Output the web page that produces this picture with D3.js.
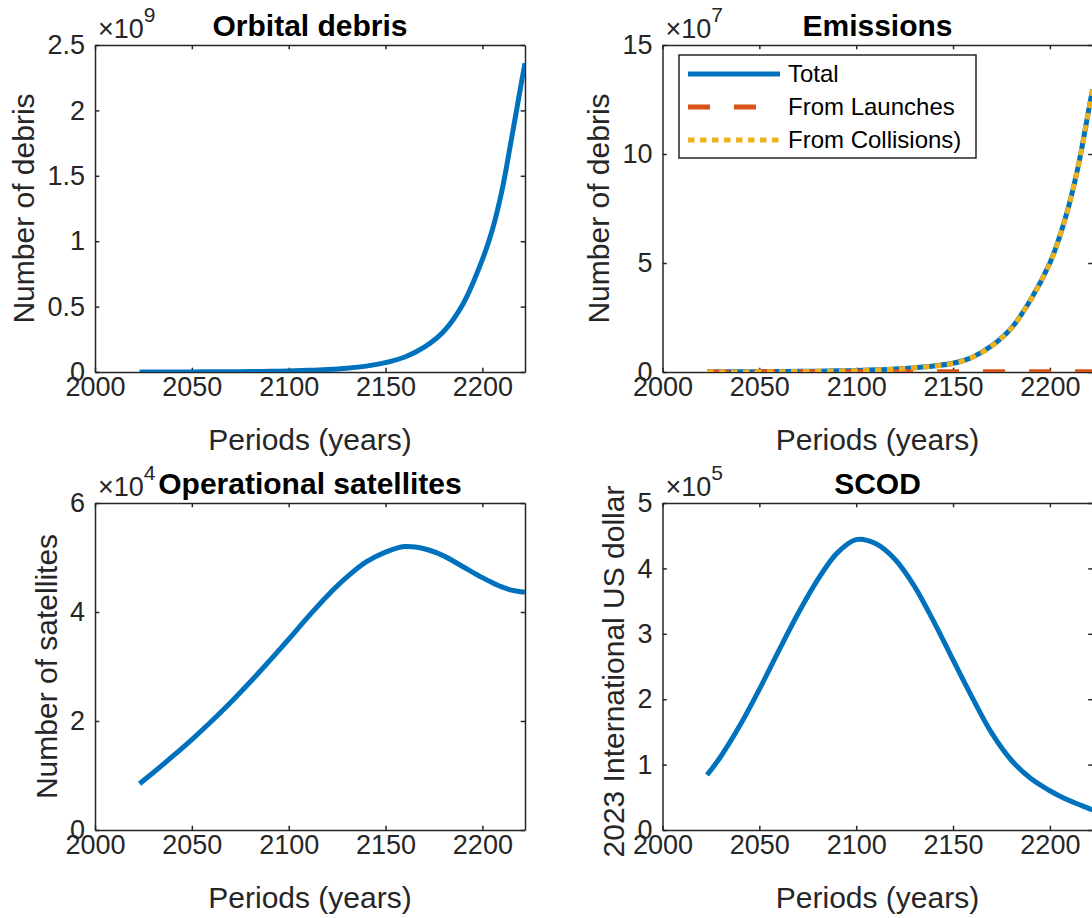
<!DOCTYPE html>
<html>
<head>
<meta charset="utf-8">
<style>
  body { margin: 0; background: #fff; }
  svg { display: block; font-family: "Liberation Sans", Arial, Helvetica, sans-serif; }
  .axis .domain, .axis .tick line { stroke: #262626; stroke-width: 1.5; }
  .axis .tick text { fill: #262626; font-size: 27px; }
  .ylab, .xlab { fill: #262626; font-size: 30px; }
  .ttl { fill: #000; font-size: 30px; font-weight: bold; }
  .expo { fill: #262626; font-size: 27px; }
  .leg text { fill: #000; font-size: 24px; }
</style>
<script src="https://d3js.org/d3.v7.min.js"></script>
</head>
<body>
<svg id="fig" width="1092" height="918"></svg>
<script>
// periods (years) shared by all series
var years = [2023, 2030, 2040, 2050, 2060, 2070, 2080, 2090, 2100, 2110, 2120, 2130,
             2140, 2150, 2160, 2170, 2180, 2190, 2200, 2205, 2210, 2215, 2220, 2222];

// orbital debris, x 1e9
var debris = [0.0003, 0.0004, 0.0006, 0.0009, 0.0014, 0.0022, 0.0034, 0.0053, 0.0082, 0.0125, 0.019, 0.029,
              0.045, 0.072, 0.115, 0.19, 0.31, 0.52, 0.86, 1.08, 1.38, 1.78, 2.20, 2.36];

// emissions, x 1e7
var emisTotal = [0.002, 0.005, 0.01, 0.015, 0.02, 0.03, 0.04, 0.055, 0.07, 0.1, 0.14, 0.2,
                 0.28, 0.4, 0.68, 1.2, 2.0, 3.3, 5.0, 6.2, 7.7, 9.6, 12.0, 12.95];
var emisLaunch = [0.002, 0.004, 0.005, 0.006, 0.007, 0.008, 0.008, 0.009, 0.009, 0.01, 0.01, 0.01,
                  0.01, 0.01, 0.01, 0.01, 0.01, 0.01, 0.01, 0.01, 0.01, 0.01, 0.01, 0.01];
var emisColl = [0.0, 0.001, 0.005, 0.009, 0.013, 0.022, 0.032, 0.046, 0.061, 0.09, 0.13, 0.19,
                0.27, 0.39, 0.67, 1.19, 1.99, 3.29, 4.99, 6.19, 7.69, 9.59, 11.99, 12.94];

// operational satellites, x 1e4
var sats = [0.85, 1.05, 1.35, 1.66, 1.99, 2.34, 2.71, 3.10, 3.50, 3.91, 4.30, 4.64,
            4.92, 5.10, 5.20, 5.16, 5.03, 4.83, 4.63, 4.54, 4.46, 4.40, 4.37, 4.36];

// SCOD, x 1e5
var scod = [0.84, 1.12, 1.60, 2.15, 2.74, 3.31, 3.82, 4.23, 4.44, 4.38, 4.14, 3.73,
            3.19, 2.60, 2.02, 1.48, 1.07, 0.79, 0.60, 0.52, 0.45, 0.39, 0.33, 0.31];

var xTicks = [2000, 2050, 2100, 2150, 2200];
var debrisTicks = [0, 0.5, 1, 1.5, 2, 2.5];
var emisTicks = [0, 5, 10, 15];
var satTicks = [0, 2, 4, 6];
var scodTicks = [0, 1, 2, 3, 4, 5];

var legendLabels = ["Total", "From Launches", "From Collisions)"];

var blue = "#0072BD", orange = "#D95319", yellow = "#EDB120";

var svg = d3.select("#fig");

var panels = [
  { left: 95, top: 45, title: "Orbital debris", ylab: "Number of debris", expo: "9",
    ymax: 2.5, yticks: debrisTicks,
    series: [{ v: debris, color: blue }] },
  { left: 662.5, top: 45, title: "Emissions", ylab: "Number of debris", expo: "7",
    ymax: 15, yticks: emisTicks, legend: true,
    series: [{ v: emisTotal, color: blue },
             { v: emisLaunch, color: orange, dash: "22,24" },
             { v: emisColl, color: yellow, dash: "6.5,5.5" }] },
  { left: 95, top: 503, title: "Operational satellites", ylab: "Number of satellites", expo: "4",
    ymax: 6, yticks: satTicks,
    series: [{ v: sats, color: blue }] },
  { left: 662.5, top: 503, title: "SCOD", ylab: "2023 International US dollar", expo: "5",
    ymax: 5, yticks: scodTicks,
    series: [{ v: scod, color: blue }] }
];

var W = 430, H = 327, tick = 4.3;

panels.forEach(function(p, k) {
  var g = svg.append("g").attr("transform", "translate(" + p.left + "," + p.top + ")");

  var x = d3.scaleLinear().domain([2000, 2222]).range([0, W]);
  var y = d3.scaleLinear().domain([0, p.ymax]).range([H, 0]);

  g.append("clipPath").attr("id", "clip" + k)
    .append("rect").attr("width", W).attr("height", H);

  // box and inward ticks on all four sides
  g.append("g").attr("class", "axis")
    .attr("transform", "translate(0," + H + ")")
    .call(d3.axisBottom(x).tickValues(xTicks).tickSizeInner(-tick).tickSizeOuter(0)
      .tickPadding(5).tickFormat(d3.format("d")));
  g.append("g").attr("class", "axis")
    .call(d3.axisTop(x).tickValues(xTicks).tickSizeInner(-tick).tickSizeOuter(0).tickFormat(""));
  var yAx = g.append("g").attr("class", "axis")
    .call(d3.axisLeft(y).tickValues(p.yticks).tickSizeInner(-tick).tickSizeOuter(0)
      .tickPadding(10).tickFormat(function(d) { return String(d); }));
  g.append("g").attr("class", "axis")
    .attr("transform", "translate(" + W + ",0)")
    .call(d3.axisRight(y).tickValues(p.yticks).tickSizeInner(-tick).tickSizeOuter(0).tickFormat(""));
  g.selectAll(".axis").attr("font-family", null).attr("font-size", null);

  // lines
  var line = d3.line()
    .curve(d3.curveCatmullRom.alpha(0.5))
    .x(function(d, i) { return x(years[i]); })
    .y(function(d) { return y(d); });

  p.series.forEach(function(s) {
    g.append("path")
      .datum(s.v)
      .attr("clip-path", "url(#clip" + k + ")")
      .attr("fill", "none")
      .attr("stroke", s.color)
      .attr("stroke-width", 5)
      .attr("stroke-dasharray", s.dash || null)
      .attr("d", line);
  });

  // texts
  g.append("text").attr("class", "ttl")
    .attr("x", W / 2).attr("y", -9).attr("text-anchor", "middle")
    .text(p.title);

  g.append("text").attr("class", "xlab")
    .attr("x", W / 2).attr("y", H + 78).attr("text-anchor", "middle")
    .text("Periods (years)");

  var bb = yAx.node().getBBox();
  g.append("text").attr("class", "ylab")
    .attr("transform", "translate(" + (bb.x - 13) + "," + (H / 2 + (p.ylab.length > 20 ? 5 : 0)) + ") rotate(-90)")
    .attr("text-anchor", "middle")
    .text(p.ylab);

  var ex = g.append("text").attr("class", "expo").attr("x", 3).attr("y", -7);
  ex.append("tspan").attr("font-weight", 300).text("\u00d7");
  ex.append("tspan").text("10");
  ex.append("tspan").attr("font-size", "21px").attr("dy", -16).text(p.expo);

  if (p.legend) {
    var lg = g.append("g").attr("class", "leg").attr("transform", "translate(16.5,10)");
    lg.append("rect").attr("width", 297).attr("height", 103)
      .attr("fill", "#fff").attr("stroke", "#262626").attr("stroke-width", 1.5);
    legendLabels.forEach(function(lab, i) {
      var s = p.series[i], cy = 19 + i * 33;
      lg.append("line").attr("x1", 9).attr("x2", 101).attr("y1", cy).attr("y2", cy)
        .attr("stroke", s.color).attr("stroke-width", 5)
        .attr("stroke-dasharray", s.dash || null);
      lg.append("text").attr("x", 109).attr("y", cy).attr("dy", "0.35em").text(lab);
    });
  }
});
</script>
</body>
</html>
